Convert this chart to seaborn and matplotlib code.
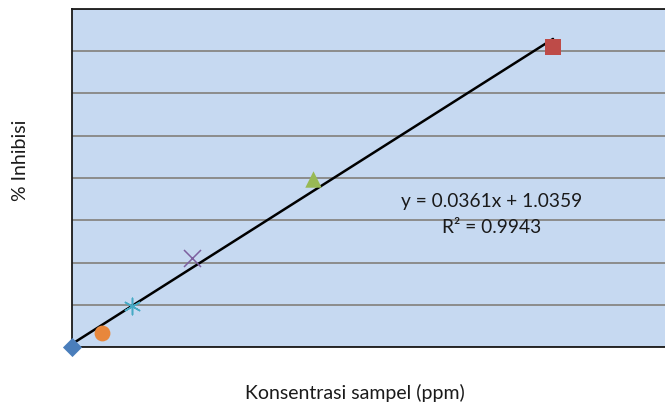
import matplotlib
matplotlib.use("Agg")
import matplotlib.pyplot as plt
import numpy as np
import pandas as pd
import seaborn as sns

# Sample concentrations (ppm) and measured inhibition
konsentrasi = [0, 6.25, 12.5, 25, 50, 100]
inhibisi = [1.00, 1.17, 1.485, 2.05, 2.99, 4.55]

# Regression result reported on the chart
slope = 0.0361
intercept = 1.0359
r_squared = 0.9943

# One marker style per point, Excel-like series palette
markers = ["D", "o", (6, 2, 0), "x", "^", "s"]
colors = ["#4a7ebb", "#e8873c", "#46aac5", "#7d60a0", "#98b954", "#be4b48"]
sizes = [95, 130, 140, 150, 140, 130]

sns.set_style("white")
plt.rcParams["font.family"] = ["Lato", "DejaVu Sans"]

fig = plt.figure(figsize=(6.65, 4.08), dpi=100)
ax = fig.add_axes([72 / 665, 61 / 408, 1 - 72 / 665, (347 - 9) / 408])
ax.set_facecolor("#c6d9f1")

df = pd.DataFrame({"konsentrasi": konsentrasi, "inhibisi": inhibisi})

# Linear trendline drawn from the fitted equation
x_fit = np.array([min(konsentrasi), max(konsentrasi)])
fit = pd.DataFrame({"x": x_fit, "y": slope * x_fit + intercept})
sns.lineplot(data=fit, x="x", y="y", color="black", linewidth=1.8, ax=ax, zorder=3)

for i in range(len(df)):
    row = df.iloc[[i]]
    m = markers[i]
    filled = m in ("D", "o", "^", "s")
    sns.scatterplot(
        data=row, x="konsentrasi", y="inhibisi", marker=m, color=colors[i],
        s=sizes[i], linewidth=0 if filled else 1.1, ax=ax, zorder=4,
        clip_on=False,
    )

ax.set_xlim(0, (665 - 72) / 4.81)
ax.set_ylim(1, 5)
ax.set_yticks(np.arange(1, 5.01, 0.5))
ax.set_xticks([])
ax.tick_params(left=False, bottom=False, labelleft=False, labelbottom=False)
ax.yaxis.grid(True, color="#8c8c8c", linewidth=1.4)
ax.xaxis.grid(False)
ax.set_axisbelow(True)

for side in ("left", "bottom", "top"):
    ax.spines[side].set_visible(True)
    ax.spines[side].set_color("#1a1a1a")
    ax.spines[side].set_linewidth(1.3)
ax.spines["right"].set_visible(False)

ax.set_xlabel("")
ax.set_ylabel("")

ax.text(87.3, 2.716, f"y = {slope}x + {intercept}", ha="center", va="center",
        fontsize=13.8, color="#1a1a1a")
ax.text(87.3, 2.42, f"R² = {r_squared}", ha="center", va="center",
        fontsize=13.8, color="#1a1a1a")

fig.text(355 / 665, 1 - 393 / 408, "Konsentrasi sampel (ppm)", ha="center",
         va="center", fontsize=14, color="#1a1a1a")
fig.text(20 / 665, 1 - 160 / 408, "% Inhibisi", ha="center", va="center",
         rotation=90, fontsize=14, color="#1a1a1a")

fig.savefig("out.png", dpi=100)
